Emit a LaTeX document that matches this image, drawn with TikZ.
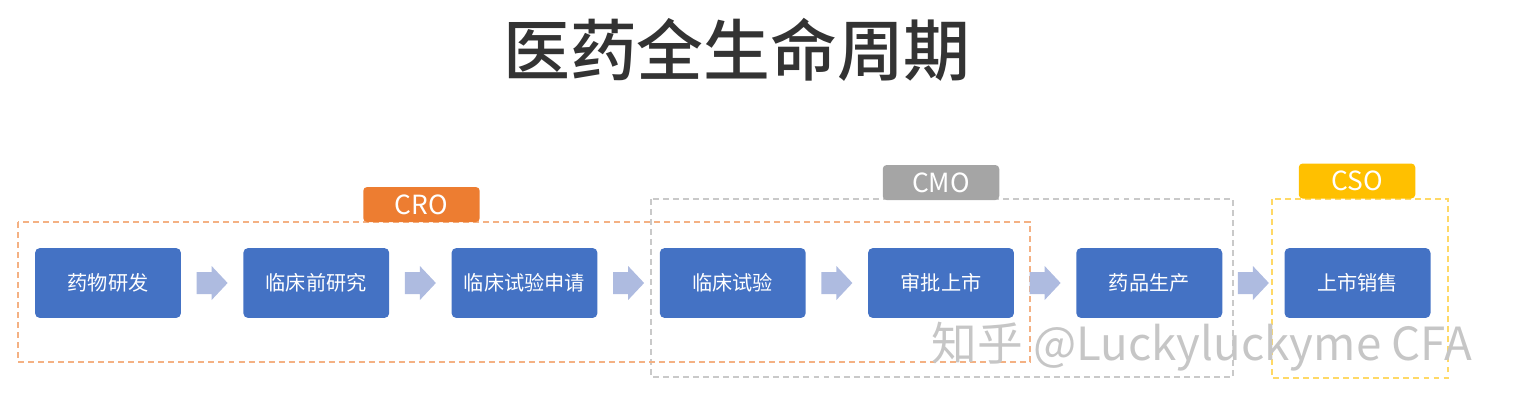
\documentclass[tikz,border=0pt]{standalone}
\usepackage{fontspec}
\setmainfont{Noto Sans CJK SC}
\newfontfamily\titlefont{Noto Sans CJK SC Medium}
\usepackage{tikz}
\usetikzlibrary{calc}
\definecolor{stageblue}{HTML}{4472C4}
\definecolor{flowarrow}{HTML}{AEBBE0}
\definecolor{croorange}{HTML}{ED7D31}
\definecolor{crolight}{HTML}{F4B183}
\definecolor{cmogray}{HTML}{A5A5A5}
\definecolor{cmolight}{HTML}{C9C9C9}
\definecolor{csogold}{HTML}{FFC000}
\definecolor{csolight}{HTML}{FFD966}
\definecolor{titledark}{HTML}{333333}

\tikzset{
  stage/.style={fill=stageblue, text=white, rounded corners=2.8pt,
    minimum width=2.92cm, minimum height=1.4cm, inner sep=0pt,
    font=\fontsize{11.5}{13}\selectfont},
  grouptag/.style={fill=#1, text=white, rounded corners=2.2pt,
    minimum width=2.33cm, minimum height=0.7cm, inner sep=0pt,
    font=\fontsize{15}{17}\selectfont},
  groupframe/.style={draw=#1, line width=0.8pt, dash pattern=on 3.4pt off 2.3pt},
}

\begin{document}
\begin{tikzpicture}[x=0.02cm, y=-0.02cm]
    \useasboundingbox (0,0) rectangle (1514,416);

    \node[text=titledark, font=\fontsize{38}{40}\titlefont] (title) at (737,50) {医药全生命周期};

    % dashed frames of the service groups
    \draw[groupframe=cmolight] (651,199) rectangle (1233,377);
    \draw[groupframe=csolight] (1272,199) rectangle (1448,378);
    \draw[groupframe=crolight] (18,222) rectangle (1030,362);

    \node[grouptag=croorange] (cro) at (421.5,204.5) {CRO};
    \node[grouptag=cmogray] (cmo) at (941,182.5) {CMO};
    \node[grouptag=csogold] (cso) at (1357,181) {CSO};

    % stages
    \foreach \n/\x/\t in {s1/108/药物研发, s2/316.25/临床前研究, s3/524.5/临床试验申请,
        s4/732.75/临床试验, s5/941/审批上市, s6/1149.25/药品生产, s7/1357.5/上市销售}
      \node[stage] (\n) at (\x,283) {\t};

    % block arrows between stages
    \foreach \a/\b in {s1/s2, s2/s3, s3/s4, s4/s5, s5/s6, s6/s7}
      \fill[flowarrow] ($(\a.east)!0.5!(\b.west)$) ++(-15.5,-11) -- ++(15,0) -- ++(0,-6)
        -- ++(16,17) -- ++(-16,17) -- ++(0,-6) -- ++(-15,0) -- cycle;

    \node[text=gray!45, font=\fontsize{26}{28}\selectfont, anchor=east] (mark) at (1478,347) {知乎 @Luckyluckyme CFA};
\end{tikzpicture}
\end{document}
